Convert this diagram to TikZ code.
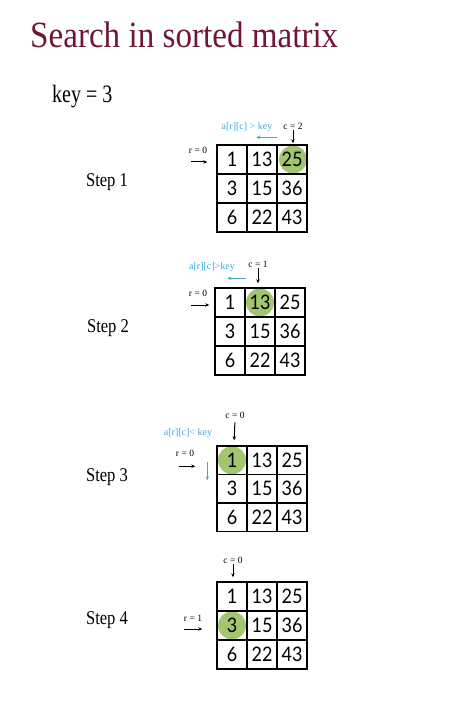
\documentclass[tikz,border=0pt]{standalone}
\usepackage{fontspec}
\setmainfont{Liberation Serif}
\newfontfamily\digitfont[FakeStretch=0.9]{Lato}
\usetikzlibrary{arrows.meta,backgrounds}

\definecolor{titlered}{HTML}{701638}
\definecolor{cueblue}{HTML}{3CA8DC}
\definecolor{hitgreen}{HTML}{A2C56E}

\tikzset{
  cell/.style={draw, line width=1.4pt, minimum width=30pt, minimum height=29pt, inner sep=0pt, font=\digitfont\fontsize{20}{20}\selectfont},
  tag/.style={inner sep=1pt, font=\fontsize{9.5}{9.5}\selectfont},
  cuetag/.style={inner sep=1pt, text=cueblue, font=\fontsize{10}{10}\selectfont},
  cue/.style={cueblue, line width=1pt, -{Stealth[length=4pt,width=3.5pt]}},
  ptr/.style={black, line width=1pt, -{Stealth[length=4pt,width=3.5pt]}},
  steplabel/.style={font=\fontsize{19.5}{19.5}\selectfont}
}

\begin{document}
\begin{tikzpicture}[x=1pt, y=-1pt]
\useasboundingbox (0,0) rectangle (474,711);

% heading
\node[anchor=base west, inner sep=0pt, text=titlered, font=\fontsize{37}{40}\selectfont] (title) at (30,48) {\scalebox{0.895}[1]{Search in sorted matrix}};
\node[anchor=base west, inner sep=0pt, font=\fontsize{25}{28}\selectfont] (key) at (52,103) {\scalebox{0.8}[1]{key = 3}};

% step 1
\node[steplabel] (s1) at (107,182) {\scalebox{0.85}[1]{Step 1}};
\foreach \a/\b/\c [count=\r] in {1/13/25, 3/15/36, 6/22/43} {
  \node[cell] (m1-\r-1) at (232,130.5+29*\r) {\a};
  \node[cell] (m1-\r-2) at (262,130.5+29*\r) {\b};
  \node[cell] (m1-\r-3) at (292,130.5+29*\r) {\c};
}
\begin{scope}[on background layer]
\fill[hitgreen] ([xshift=1pt]m1-1-3) circle (14pt);
\end{scope}
\node[tag] (c1) at (293,126) {c = 2};
\draw[ptr, shorten >=1pt] (c1.south) -- ([xshift=1pt]m1-1-3.north);
\node[tag] (r1) at (198,150) {r = 0};
\draw[ptr] ([xshift=-25pt,yshift=-2.5pt]m1-1-1.west) -- ([xshift=-9pt,yshift=-2.5pt]m1-1-1.west);
\node[cuetag] (q1) at (247,127) {a[r][c] > key};
\draw[cue] ([xshift=1pt,yshift=7pt]m1-1-3.north west) -- ([xshift=-20pt,yshift=7pt]m1-1-3.north west);

% step 2
\node[steplabel] (s2) at (108,328) {\scalebox{0.85}[1]{Step 2}};
\foreach \a/\b/\c [count=\r] in {1/13/25, 3/15/36, 6/22/43} {
  \node[cell] (m2-\r-1) at (230,273.5+29*\r) {\a};
  \node[cell] (m2-\r-2) at (260,273.5+29*\r) {\b};
  \node[cell] (m2-\r-3) at (290,273.5+29*\r) {\c};
}
\begin{scope}[on background layer]
\fill[hitgreen] (m2-1-2) circle (14pt);
\end{scope}
\node[tag] (c2) at (258,264) {c = 1};
\draw[ptr, shorten >=4pt] (c2.south) -- ([xshift=-2pt]m2-1-2.north);
\node[tag] (r2) at (198,293) {r = 0};
\draw[ptr] ([xshift=-23pt,yshift=-2.5pt]m2-1-1.west) -- ([xshift=-5pt,yshift=-2.5pt]m2-1-1.west);
\node[cuetag] (q2) at (212,267) {a[r][c]>key};
\draw[cue] ([xshift=2pt,yshift=9pt]m2-1-2.north west) -- ([xshift=-17pt,yshift=9pt]m2-1-2.north west);

% step 3
\node[steplabel] (s3) at (107,477) {\scalebox{0.85}[1]{Step 3}};
\foreach \a/\b/\c [count=\r] in {1/13/25, 3/15/36, 6/22/43} {
  \node[cell, minimum height=28.5pt] (m3-\r-1) at (232,431.75+28.5*\r) {\a};
  \node[cell, minimum height=28.5pt] (m3-\r-2) at (262,431.75+28.5*\r) {\b};
  \node[cell, minimum height=28.5pt] (m3-\r-3) at (292,431.75+28.5*\r) {\c};
}
\begin{scope}[on background layer]
\fill[hitgreen] (m3-1-1) circle (14pt);
\end{scope}
\node[tag] (c3) at (235,415) {c = 0};
\draw[ptr, shorten <=3pt, shorten >=5pt] (c3.south) -- ([xshift=2pt]m3-1-1.north);
\node[tag] (r3) at (185,453) {r = 0};
\draw[ptr] ([xshift=-37pt,yshift=-6pt]m3-1-1.west) -- ([xshift=-21pt,yshift=-6pt]m3-1-1.west);
\node[cuetag] (q3) at (188,433) {a[r][c]< key};
\draw[cue] ([xshift=-9pt,yshift=-2pt]m3-1-1.west) -- ([xshift=-9pt,yshift=-20pt]m3-1-1.west);

% step 4
\node[steplabel] (s4) at (107,620) {\scalebox{0.85}[1]{Step 4}};
\foreach \a/\b/\c [count=\r] in {1/13/25, 3/15/36, 6/22/43} {
  \node[cell] (m4-\r-1) at (232,567.5+29*\r) {\a};
  \node[cell] (m4-\r-2) at (262,567.5+29*\r) {\b};
  \node[cell] (m4-\r-3) at (292,567.5+29*\r) {\c};
}
\begin{scope}[on background layer]
\fill[hitgreen] (m4-2-1) circle (14pt);
\end{scope}
\node[tag] (c4) at (233,560) {c = 0};
\draw[ptr, shorten >=4pt] (c4.south) -- ([xshift=1pt]m4-1-1.north);
\node[tag] (r4) at (193,618) {r = 1};
\draw[ptr] ([xshift=-32pt,yshift=-3.5pt]m4-2-1.west) -- ([xshift=-14pt,yshift=-3.5pt]m4-2-1.west);

\end{tikzpicture}
\end{document}
